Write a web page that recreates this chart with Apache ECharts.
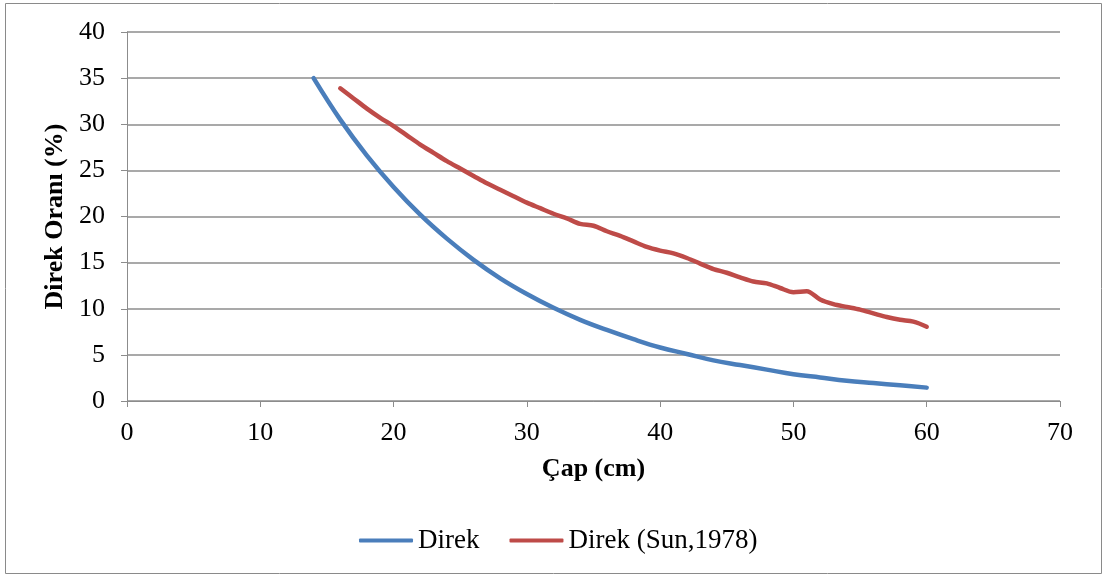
<!DOCTYPE html>
<html>
<head>
<meta charset="utf-8">
<script src="https://cdn.jsdelivr.net/npm/echarts@6/dist/echarts.min.js"></script>
<style>
  html, body { margin: 0; padding: 0; background: #fff; }
  #chart { width: 1103px; height: 577px; }
</style>
</head>
<body>
<div id="chart"></div>
<script>
// Çap (cm) and Direk oranı (%) for the computed curve
const direkCap = [14, 16, 18, 20, 22, 24, 26, 28, 30, 32, 34, 36, 38, 40, 42, 44, 46, 48, 50, 52, 54, 56, 58, 60];
const direkOran = [35.0, 30.5, 26.6, 23.2, 20.2, 17.6, 15.3, 13.3, 11.6, 10.1, 8.8, 7.7, 6.7, 5.8, 5.1, 4.4, 3.9, 3.4, 2.9, 2.55, 2.2, 1.95, 1.7, 1.45];

// Çap (cm) and Direk oranı (%) after Sun (1978)
const sunCap = [16, 17, 18, 19, 20, 21, 22, 23, 24, 25, 26, 27, 28, 29, 30, 31, 32, 33, 34, 35, 36, 37, 38, 39, 40, 41, 42, 43, 44, 45, 46, 47, 48, 49, 50, 51, 52, 53, 54, 55, 56, 57, 58, 59, 60];
const sunOran = [33.9, 32.8, 31.7, 30.7, 29.8, 28.8, 27.8, 26.9, 26.0, 25.2, 24.4, 23.6, 22.9, 22.2, 21.5, 20.9, 20.3, 19.8, 19.2, 19.0, 18.4, 17.9, 17.3, 16.7, 16.3, 16.0, 15.5, 14.9, 14.3, 13.9, 13.4, 12.95, 12.75, 12.25, 11.8, 11.9, 11.0, 10.5, 10.2, 9.9, 9.5, 9.1, 8.8, 8.6, 8.05];

const seriesNames = ['Direk', 'Direk (Sun,1978)'];

const pairs = (xs, ys) => xs.map((x, i) => [x, ys[i]]);

const font = '"Liberation Serif", "Times New Roman", serif';
const gridColor = '#8c8c8c';

const chart = echarts.init(document.getElementById('chart'), null, { renderer: 'canvas' });
chart.setOption({
  animation: false,
  backgroundColor: '#ffffff',
  graphic: [{
    type: 'rect',
    shape: { x: 5.5, y: 3.5, width: 1096, height: 570 },
    style: { fill: 'none', stroke: '#8a8a8a', lineWidth: 1 },
    silent: true
  }],
  grid: { left: 127, right: 43, top: 32, bottom: 176 },
  legend: {
    bottom: 18,
    left: 354,
    itemWidth: 54,
    itemHeight: 4,
    itemGap: 30,
    icon: 'roundRect',
    textStyle: { fontFamily: font, fontSize: 27, color: '#000' },
    data: seriesNames
  },
  xAxis: {
    type: 'value',
    min: 0, max: 70, interval: 10,
    name: 'Çap (cm)',
    nameLocation: 'middle',
    nameGap: 55,
    nameTextStyle: { fontFamily: font, fontSize: 26, fontWeight: 'bold', color: '#000' },
    axisLine: { show: true, lineStyle: { color: gridColor, width: 1 } },
    axisTick: { show: true, length: 6, lineStyle: { color: gridColor } },
    axisLabel: { fontFamily: font, fontSize: 26, color: '#000', margin: 19 },
    splitLine: { show: false }
  },
  yAxis: {
    type: 'value',
    min: 0, max: 40, interval: 5,
    name: 'Direk Oranı (%)',
    nameLocation: 'middle',
    nameGap: 56,
    nameTextStyle: { fontFamily: font, fontSize: 26, fontWeight: 'bold', color: '#000' },
    axisLine: { show: true, lineStyle: { color: gridColor, width: 1 } },
    axisTick: { show: true, length: 6, lineStyle: { color: gridColor } },
    axisLabel: { fontFamily: font, fontSize: 26, color: '#000', margin: 22 },
    splitLine: { show: true, lineStyle: { color: gridColor, width: 1.5 } }
  },
  series: [
    {
      name: seriesNames[0],
      type: 'line',
      smooth: 0.4,
      showSymbol: false,
      data: pairs(direkCap, direkOran),
      lineStyle: { color: '#4a7ebb', width: 4.5, cap: 'round' },
      itemStyle: { color: '#4a7ebb' }
    },
    {
      name: seriesNames[1],
      type: 'line',
      smooth: 0.3,
      showSymbol: false,
      data: pairs(sunCap, sunOran),
      lineStyle: { color: '#be4b48', width: 4.5, cap: 'round' },
      itemStyle: { color: '#be4b48' }
    }
  ]
});
</script>
</body>
</html>
